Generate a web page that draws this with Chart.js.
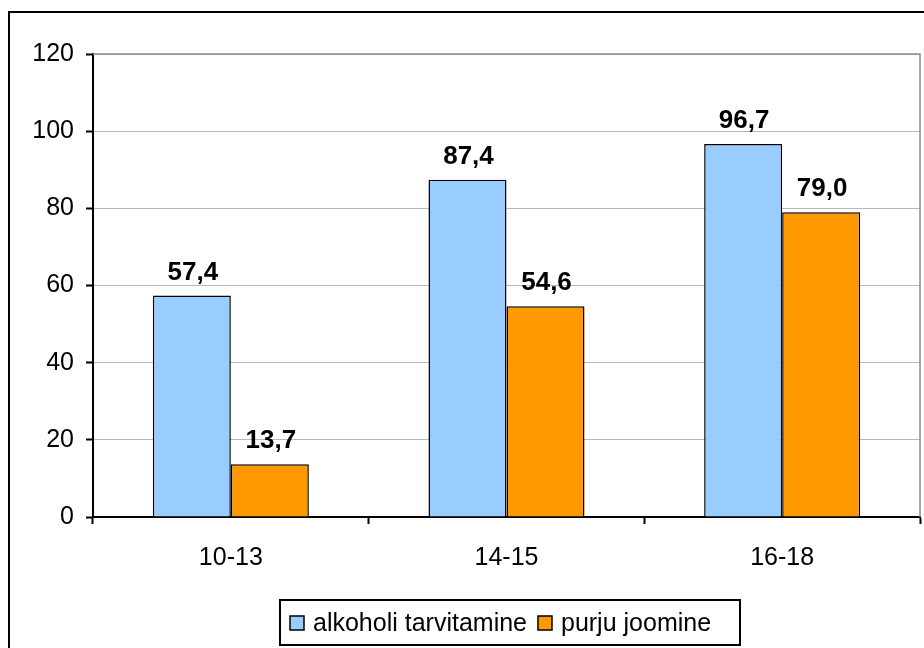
<!DOCTYPE html>
<html>
<head>
  <meta charset="UTF-8">
  <title>alkoholi tarvitamine / purju joomine</title>
  <script src="https://cdn.jsdelivr.net/npm/chart.js"></script>
  <style>
    body { margin: 0; background: #fff; }
    #wrap { width: 924px; height: 648px; }
  </style>
</head>
<body>
  <div id="wrap"><canvas id="chart" width="924" height="648"></canvas></div>

  <script>
    const categories = ["10-13", "14-15", "16-18"];
    const seriesNames = ["alkoholi tarvitamine", "purju joomine"];
    const alkoholi = [57.4, 87.4, 96.7];
    const purju = [13.7, 54.6, 79.0];
    const yTicks = [0, 20, 40, 60, 80, 100, 120];
    const colors = ["#99CCFF", "#FF9900"];

    const FONT = "'Liberation Sans', Arial, sans-serif";

    const extras = {
      id: "extras",
      beforeDraw(chart) {
        const ctx = chart.ctx;
        ctx.save();
        ctx.fillStyle = "#fff";
        ctx.fillRect(0, 0, chart.width, chart.height);
        // outer frame (runs off the right and bottom edges)
        ctx.fillStyle = "#000";
        ctx.fillRect(8, 11, 2, chart.height);
        ctx.fillRect(8, 11, chart.width, 2);
        ctx.restore();
      },
      beforeDatasetsDraw(chart) {
        const a = chart.chartArea;
        const ctx = chart.ctx;
        ctx.save();
        ctx.strokeStyle = "#8c8c8c";
        ctx.lineWidth = 1.5;
        ctx.beginPath();
        ctx.moveTo(a.left, a.top);
        ctx.lineTo(a.right, a.top);
        ctx.lineTo(a.right, a.bottom);
        ctx.stroke();
        ctx.restore();
      },
      afterDatasetsDraw(chart) {
        const ctx = chart.ctx;
        ctx.save();
        ctx.font = "bold 26px " + FONT;
        ctx.fillStyle = "#000";
        ctx.textAlign = "center";
        ctx.textBaseline = "alphabetic";
        chart.data.datasets.forEach((ds, i) => {
          chart.getDatasetMeta(i).data.forEach((bar, j) => {
            ctx.fillText(ds.data[j].toFixed(1).replace(".", ","), bar.x + 1, bar.y - 16);
          });
        });
        ctx.restore();
      },
      afterDraw(chart) {
        // legend box
        const ctx = chart.ctx;
        ctx.save();
        ctx.strokeStyle = "#000";
        ctx.lineWidth = 2;
        ctx.strokeRect(280, 600, 460, 45);
        ctx.font = "25px " + FONT;
        ctx.textBaseline = "middle";
        ctx.textAlign = "left";
        let x = 290;
        const cy = 623;
        seriesNames.forEach((name, i) => {
          ctx.fillStyle = colors[i];
          ctx.fillRect(x, cy - 7, 14, 14);
          ctx.lineWidth = 1.5;
          ctx.strokeStyle = "#000";
          ctx.strokeRect(x, cy - 7, 14, 14);
          ctx.fillStyle = "#000";
          ctx.fillText(name, x + 23, cy + 1);
          x += 23 + ctx.measureText(name).width + 11;
        });
        ctx.restore();
      }
    };

    new Chart(document.getElementById("chart"), {
      type: "bar",
      data: {
        labels: categories,
        datasets: [
          { label: seriesNames[0], data: alkoholi, backgroundColor: colors[0], borderColor: "#000", borderWidth: 1.5,
            categoryPercentage: 0.566, barPercentage: 1.0 },
          { label: seriesNames[1], data: purju, backgroundColor: colors[1], borderColor: "#000", borderWidth: 1.5,
            categoryPercentage: 0.566, barPercentage: 1.0 }
        ]
      },
      options: {
        responsive: false,
        animation: false,
        layout: { padding: { left: 0, top: 54, right: 4, bottom: 0 } },
        plugins: {
          legend: { display: false },
          tooltip: { enabled: false }
        },
        scales: {
          x: {
            grid: { drawOnChartArea: false, offset: true, tickLength: 7, tickColor: "#000", tickWidth: 2 },
            border: { color: "#000", width: 2 },
            ticks: { font: { family: FONT, size: 25 }, color: "#000", padding: 19 },
            afterFit(scale) { scale.height = 131; }
          },
          y: {
            min: 0,
            max: 120,
            afterBuildTicks(scale) { scale.ticks = yTicks.map(v => ({ value: v })); },
            grid: { color: "#b8b8b8", lineWidth: 1, tickLength: 7, tickColor: "#000", tickWidth: 2 },
            border: { color: "#000", width: 2 },
            ticks: { font: { family: FONT, size: 25 }, color: "#000", padding: 12 },
            afterFit(scale) { scale.width = 93; }
          }
        }
      },
      plugins: [extras]
    });
  </script>
</body>
</html>
